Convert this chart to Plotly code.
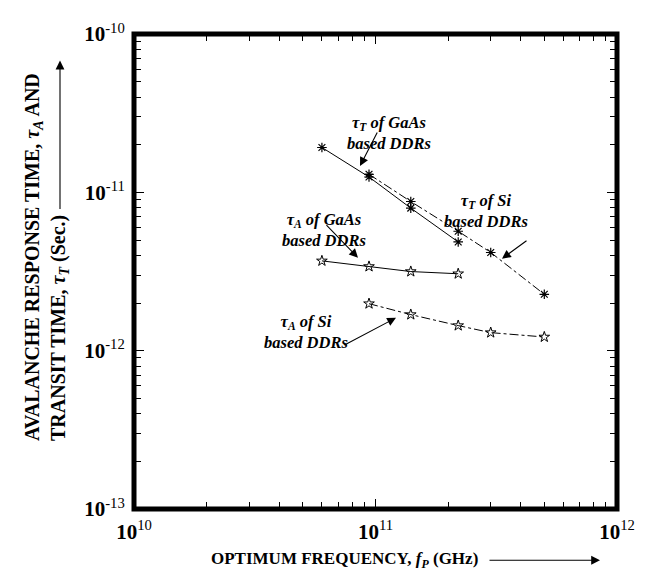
import plotly.graph_objects as go

# ---------------- data ----------------
freq_gaas = [60e9, 94e9, 140e9, 220e9]
freq_si = [94e9, 140e9, 220e9, 300e9, 500e9]
tauT_gaas = [1.92e-11, 1.25e-11, 7.95e-12, 4.86e-12]
tauT_si = [1.30e-11, 8.75e-12, 5.68e-12, 4.17e-12, 2.27e-12]
tauA_gaas = [3.69e-12, 3.40e-12, 3.16e-12, 3.06e-12]
tauA_si = [1.98e-12, 1.69e-12, 1.44e-12, 1.30e-12, 1.22e-12]

x_tickvals = [1e10, 1e11, 1e12]
x_ticktext = ["<b>10</b><sup>10</sup>", "<b>10</b><sup>11</sup>", "<b>10</b><sup>12</sup>"]
y_tickvals = [1e-13, 1e-12, 1e-11, 1e-10]
y_ticktext = ["<b>10</b><sup>-13</sup>", "<b>10</b><sup>-12</sup>",
              "<b>10</b><sup>-11</sup>", "<b>10</b><sup>-10</sup>"]
minor_digits = [2, 3, 4, 5, 6, 7, 8, 9]
x_decades = [1e10, 1e11]
y_decades = [1e-13, 1e-12, 1e-11]
x_minor = [d * dec for dec in x_decades for d in minor_digits]
y_minor = [d * dec for dec in y_decades for d in minor_digits]

# ---------------- figure ----------------
W, H = 646, 573
ML, MR, MT, MB = 126, 37, 19, 72
L, R, T, B = ML, W - MR, MT, H - MB


def px(x):
    return (x - L) / (R - L)


def py(y):
    return (B - y) / (B - T)


SERIF = "Liberation Serif"

fig = go.Figure()

line_solid = dict(color="black", width=1)
line_dd = dict(color="black", width=1, dash="dashdot")

fig.add_trace(go.Scatter(x=freq_gaas, y=tauT_gaas, mode="lines+markers",
                         line=line_solid,
                         marker=dict(symbol="asterisk-open", size=8,
                                     line=dict(color="black", width=1.2))))
fig.add_trace(go.Scatter(x=freq_si, y=tauT_si, mode="lines+markers",
                         line=line_dd,
                         marker=dict(symbol="asterisk-open", size=8,
                                     line=dict(color="black", width=1.2))))
fig.add_trace(go.Scatter(x=freq_gaas, y=tauA_gaas, mode="lines+markers",
                         line=line_solid,
                         marker=dict(symbol="star-open", size=8, color="black",
                                     line=dict(color="black", width=1))))
fig.add_trace(go.Scatter(x=freq_si, y=tauA_si, mode="lines+markers",
                         line=line_dd,
                         marker=dict(symbol="star-open", size=8, color="black",
                                     line=dict(color="black", width=1))))

axis_common = dict(
    type="log", showgrid=False, zeroline=False,
    showline=True, linecolor="black", linewidth=1, mirror="allticks",
    ticks="inside", ticklen=10, tickwidth=1, tickcolor="black",
    tickfont=dict(family=SERIF, size=21, color="black"),
)

fig.update_xaxes(range=[10, 12], tickvals=x_tickvals, ticktext=x_ticktext,
                 ticklabelstandoff=4,
                 minor=dict(ticks="inside", ticklen=7, tickwidth=1, tickcolor="black",
                            tickvals=x_minor, showgrid=False),
                 **axis_common)
fig.update_yaxes(range=[-13, -10], tickvals=y_tickvals, ticktext=y_ticktext,
                 ticklabelstandoff=4,
                 minor=dict(ticks="inside", ticklen=7, tickwidth=1, tickcolor="black",
                            tickvals=y_minor, showgrid=False),
                 **axis_common)

# thick frame
fig.add_shape(type="rect", xref="paper", yref="paper", x0=0, x1=1, y0=0, y1=1,
              line=dict(color="black", width=5), layer="above")

ann = []
lab_font = dict(family=SERIF, size=16.5, color="black")


def label(text, x, y):
    ann.append(dict(text=text, x=px(x), y=py(y), xref="paper", yref="paper",
                    showarrow=False, font=lab_font, align="center"))


def arrow(tail, head):
    ann.append(dict(text="", x=px(head[0]), y=py(head[1]), xref="paper", yref="paper",
                    ax=tail[0] - head[0], ay=tail[1] - head[1],
                    showarrow=True, arrowhead=2, arrowsize=1.6, arrowwidth=1.1,
                    arrowcolor="black", standoff=0, startstandoff=0))


label("<b><i>τ<sub>T</sub> of GaAs<br>based DDRs</i></b>", 381, 97)
label("<b><i>τ<sub>A</sub> of GaAs<br>based DDRs</i></b>", 272, 218)
label("<b><i>τ<sub>T</sub> of Si<br>based DDRs</i></b>", 522, 199)
label("<b><i>τ<sub>A</sub> of Si<br>based DDRs</i></b>", 298, 344)

arrow((370, 118), (352, 153))
arrow((317, 212), (350, 246))
arrow((520, 228), (494, 247))
arrow((335, 335), (388, 307))

title_font = dict(family=SERIF, size=17, color="black")
# x-axis title
ann.append(dict(text="<b>OPTIMUM FREQUENCY, <i>f<sub>P</sub></i> (GHz)</b>",
                x=px(472), y=py(553), xref="paper", yref="paper",
                xanchor="right", yanchor="middle", showarrow=False, font=title_font))
ann.append(dict(text="", x=px(592), y=py(553), xref="paper", yref="paper",
                ax=480 - 592, ay=0, showarrow=True, arrowhead=2, arrowsize=1.6,
                arrowwidth=1.1, arrowcolor="black", standoff=0, startstandoff=0))
# y-axis title (two lines)
ytitle_font = dict(family=SERIF, size=20, color="black")
ann.append(dict(text="<b>AVALANCHE RESPONSE TIME, <i>τ<sub>A</sub></i> AND</b>",
                x=px(26), y=py(434), xref="paper", yref="paper", textangle=-90,
                xanchor="center", yanchor="bottom", showarrow=False, font=ytitle_font))
ann.append(dict(text="<b>TRANSIT TIME, <i>τ<sub>T</sub></i> (Sec.)</b>",
                x=px(52), y=py(434), xref="paper", yref="paper", textangle=-90,
                xanchor="center", yanchor="bottom", showarrow=False, font=ytitle_font))
ann.append(dict(text="", x=px(52), y=py(46), xref="paper", yref="paper",
                ax=0, ay=196 - 46, showarrow=True, arrowhead=2, arrowsize=1.6,
                arrowwidth=1.1, arrowcolor="black", standoff=0, startstandoff=0))

fig.update_layout(width=W, height=H, margin=dict(l=ML, r=MR, t=MT, b=MB),
                  plot_bgcolor="white", paper_bgcolor="white",
                  showlegend=False, annotations=ann)

fig.write_html("out.html")
